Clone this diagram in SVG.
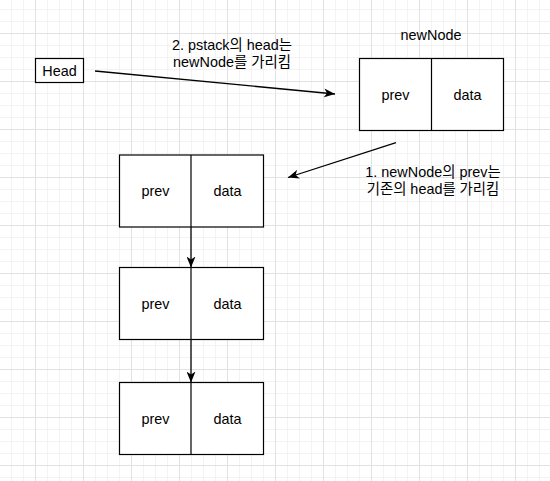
<svg xmlns="http://www.w3.org/2000/svg" width="550" height="481" viewBox="0 0 550 481">
  <defs>
    <pattern id="minor" patternUnits="userSpaceOnUse" x="11" y="9" width="12" height="12">
      <rect x="0" y="0" width="1" height="12" fill="#f3f3f3"/>
      <rect x="0" y="0" width="12" height="1" fill="#f3f3f3"/>
    </pattern>
    <pattern id="major" patternUnits="userSpaceOnUse" x="35" y="33" width="48" height="48">
      <rect x="0" y="0" width="1" height="48" fill="#e2e2e2"/>
      <rect x="0" y="0" width="48" height="1" fill="#e2e2e2"/>
    </pattern>
    <marker id="arrow" viewBox="0 0 11 9" refX="11" refY="4.5" markerWidth="11" markerHeight="9" markerUnits="userSpaceOnUse" orient="auto">
      <path d="M0,0 L11,4.5 L0,9 L3,4.5 Z" fill="#000"/>
    </marker>
    <style>
      .box { fill: #fff; stroke: #000; stroke-width: 1.2; }
      .div { stroke: #000; stroke-width: 1.2; }
      .edge { stroke: #000; stroke-width: 1.3; fill: none; marker-end: url(#arrow); }
      text { font-family: "Liberation Sans", "Noto Sans CJK KR", sans-serif; font-size: 14.4px; fill: #000; text-anchor: middle; }
    </style>
  </defs>
  <rect width="550" height="481" fill="#fff"/>
  <rect width="550" height="481" fill="url(#minor)"/>
  <rect width="550" height="481" fill="url(#major)"/>

  <g id="head">
    <rect class="box" x="35.5" y="58.5" width="48" height="24"/>
    <text x="59.5" y="75.5">Head</text>
  </g>

  <g id="newNode">
    <text x="431" y="40">newNode</text>
    <rect class="box" x="359.5" y="58.5" width="144" height="72"/>
    <line class="div" x1="431.5" y1="58.5" x2="431.5" y2="130.5"/>
    <text x="395.5" y="100">prev</text>
    <text x="467.5" y="100">data</text>
  </g>

  <g id="node1">
    <rect class="box" x="119.5" y="155" width="144" height="72"/>
    <line class="div" x1="191" y1="155" x2="191" y2="227"/>
    <text x="155.5" y="196">prev</text>
    <text x="227.5" y="196">data</text>
  </g>

  <g id="node2">
    <rect class="box" x="119.5" y="267.5" width="144" height="72"/>
    <line class="div" x1="191" y1="267.5" x2="191" y2="339.5"/>
    <text x="155.5" y="308.5">prev</text>
    <text x="227.5" y="308.5">data</text>
  </g>

  <g id="node3">
    <rect class="box" x="119.5" y="382.5" width="144" height="72"/>
    <line class="div" x1="191" y1="382.5" x2="191" y2="454.5"/>
    <text x="155.5" y="423.5">prev</text>
    <text x="227.5" y="423.5">data</text>
  </g>

  <g id="connectors">
    <line class="edge" x1="95" y1="71" x2="335" y2="94"/>
    <line class="edge" x1="396" y1="142.7" x2="288" y2="177.5"/>
    <line class="edge" x1="191" y1="227" x2="191" y2="267.5"/>
    <line class="edge" x1="191" y1="339.5" x2="191" y2="382.5"/>
  </g>

  <g id="labels">
    <text x="232" y="50">2. pstack의 head는</text>
    <text x="232" y="67">newNode를 가리킴</text>
    <text x="433" y="177">1. newNode의 prev는</text>
    <text x="433" y="193.5">기존의 head를 가리킴</text>
  </g>
</svg>
